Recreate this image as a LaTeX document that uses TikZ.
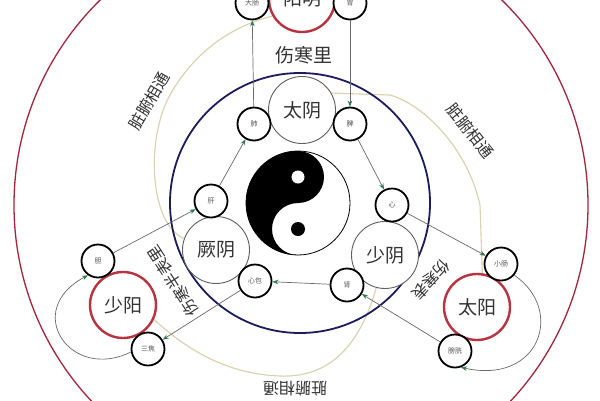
\documentclass[tikz,border=0pt]{standalone}
\usepackage{fontspec}
\setmainfont{Noto Sans CJK SC}
\usetikzlibrary{arrows.meta}
\definecolor{redc}{HTML}{B8323F}
\definecolor{outerred}{HTML}{A3263A}
\definecolor{navy}{HTML}{1C1C5C}
\definecolor{beige}{HTML}{D9D0AC}
\definecolor{arrowgreen}{HTML}{2E7D4F}
\definecolor{linegray}{HTML}{6A6A6A}
\definecolor{txt}{HTML}{333333}
\pgfdeclarelayer{bg}
\pgfsetlayers{bg,main}
\begin{document}
\begin{tikzpicture}[x=1pt,y=-1pt,
  organ/.style={circle, draw=black, line width=1.8pt, fill=white, minimum size=33pt, inner sep=0pt, font=\fontsize{7}{8}\selectfont, text=gray!70!black},
  yinbig/.style={circle, draw=gray!75!black, line width=0.9pt, fill=white, minimum size=67pt, inner sep=0pt, font=\fontsize{19}{20}\selectfont, text=txt},
  yangbig/.style={circle, draw=redc, line width=2.4pt, fill=white, minimum size=66pt, inner sep=0pt, font=\fontsize{19}{20}\selectfont, text=txt},
  conn/.style={draw=linegray, line width=0.7pt, -{Stealth[length=6pt,width=4.5pt,color=arrowgreen]}},
  tie/.style={draw=beige, line width=1.1pt},
  lab/.style={font=\fontsize{17}{18}\selectfont, text=txt, inner sep=1pt},
]
\useasboundingbox (0,0) rectangle (600,400);

% six meridian circles
\node[yangbig] (yangming) at (302,-1) {阳明};
\node[yinbig] (taiyin) at (302,110) {太阴};
\node[yinbig] (jueyin) at (216,250) {厥阴};
\node[yinbig] (shaoyin) at (385,255) {少阴};
\node[yangbig] (shaoyang) at (123,305) {少阳};
\node[yangbig] (taiyang) at (477,307) {太阳};

% organs
\node[organ] (dachang) at (252,3) {大肠};
\node[organ] (wei) at (350,3) {胃};
\node[organ] (fei) at (254,124) {肺};
\node[organ] (pi) at (350,124) {脾};
\node[organ] (gan) at (211,201) {肝};
\node[organ] (xinbao) at (255,281) {心包};
\node[organ] (xin) at (392,205) {心};
\node[organ] (shen) at (347,285) {肾};
\node[organ] (dan) at (98,261) {胆};
\node[organ] (sanjiao) at (148,349) {三焦};
\node[organ] (xiaochang) at (501,264) {小肠};
\node[organ] (pangguang) at (455,351) {膀胱};

% yin-yang
\begin{scope}[shift={(298,203)}, yscale=-1]
  \fill[white] (0,0) circle[radius=52];
  \fill[black] (0,52) arc[start angle=90,end angle=270,radius=52]
     arc[start angle=-90,end angle=-270,radius=26]
     arc[start angle=-90,end angle=90,radius=26] -- cycle;
  \draw[line width=0.8pt] (0,0) circle[radius=52];
  \fill[white] (0,26) circle[radius=6.5];
  \fill[black] (0,-26) circle[radius=7];
\end{scope}

% background circles and beige ties
\begin{pgfonlayer}{bg}
  \clip (0,0) rectangle (600,400);
  \fill[white] (0,0) rectangle (600,400);
  \draw[outerred, line width=1.3pt] (301,205) circle[radius=287];
  \draw[tie] (taiyin.30) -- (390,95) .. controls (425,105) and (468,150) .. (480,205) -- (taiyang.81);
  \draw[tie] (shaoyin.-105) .. controls (360,345) and (330,378) .. (280,376)
     .. controls (225,374) and (185,348) .. (shaoyang.-25);
  \draw[tie] (jueyin.160) .. controls (150,225) and (145,140) .. (170,95)
     .. controls (195,50) and (235,25) .. (yangming.210);
  \draw[navy, line width=1.8pt] (300,203) circle[radius=130];
\end{pgfonlayer}

% connectors
\draw[conn] (fei) -- (dachang);
\draw[conn] (wei) -- (pi);
\draw[conn] (pi) -- (xin);
\draw[conn] (gan) -- (fei);
\draw[conn] (dan) -- (gan);
\draw[conn] (xin) -- (xiaochang);
\draw[conn] (shen) -- (xinbao);
\draw[conn] (xinbao) -- (sanjiao);
\draw[conn] (pangguang) -- (shen);
\draw[conn] (sanjiao.190) .. controls (70,382) and (22,310) .. (dan.235);
\draw[conn] (xiaochang.-40) .. controls (565,310) and (540,385) .. (pangguang.-70);

% labels
\node[lab, font=\fontsize{19}{20}\selectfont] (shanghanli) at (304,55) {伤寒里};
\node[lab, font=\fontsize{16}{17}\selectfont, rotate=123] (banbiaoli) at (173,281) {伤寒半表里};
\node[lab, font=\fontsize{16}{17}\selectfont, rotate=-133] (biao) at (431,280) {伤寒表};
\node[lab, font=\fontsize{16}{17}\selectfont, rotate=60] (tong1) at (149,101) {脏腑相通};
\node[lab, font=\fontsize{16}{17}\selectfont, rotate=-51] (tong2) at (470,131) {脏腑相通};
\node[lab, font=\fontsize{16}{17}\selectfont, rotate=180] (tong3) at (295,389) {脏腑相通};
\end{tikzpicture}
\end{document}
